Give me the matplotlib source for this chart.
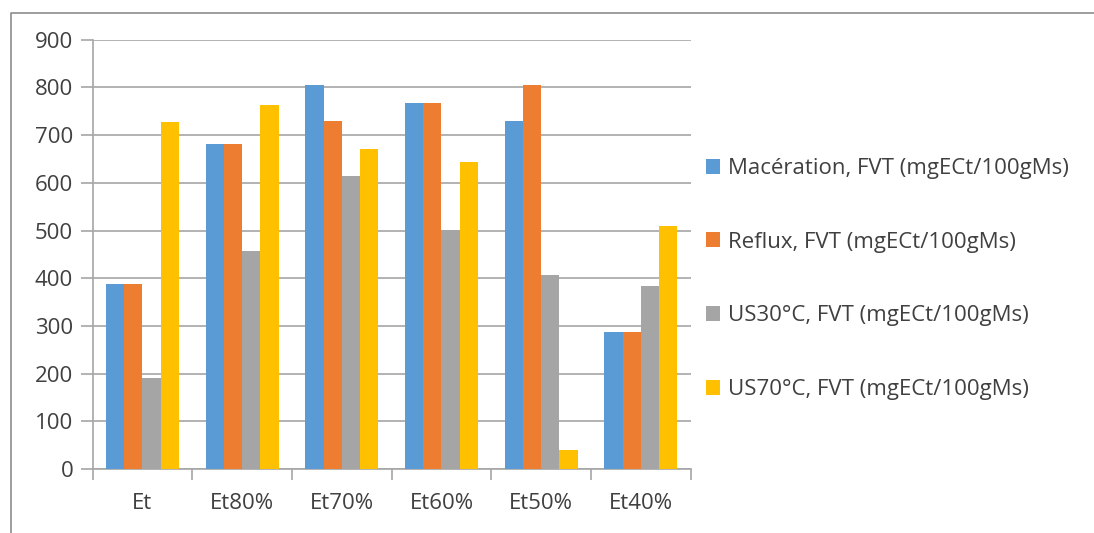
import matplotlib
matplotlib.use('Agg')
import matplotlib.pyplot as plt
import numpy as np
from matplotlib.lines import Line2D

# solvent categories and FVT values (mgECt/100gMs) for each extraction method
categories = ['Et', 'Et80%', 'Et70%', 'Et60%', 'Et50%', 'Et40%']
maceration = [387, 682, 805, 768, 730, 287]
reflux = [387, 682, 730, 768, 805, 287]
us30 = [190, 457, 615, 502, 406, 384]
us70 = [727, 764, 670, 644, 39, 509]

series = [maceration, reflux, us30, us70]
labels = ['Macération, FVT (mgECt/100gMs)', 'Reflux, FVT (mgECt/100gMs)',
          'US30°C, FVT (mgECt/100gMs)', 'US70°C, FVT (mgECt/100gMs)']
colors = ['#5B9BD5', '#ED7D31', '#A5A5A5', '#FFC000']

plt.rcParams['font.family'] = ['Open Sans', 'DejaVu Sans']
text_col = '#404040'
grid_col = '#A6A6A6'

fig = plt.figure(figsize=(10.94, 5.33), dpi=100)
ax = fig.add_axes([0.0847, 0.120, 0.5466, 0.8055])

x = np.arange(len(categories))
w = 0.183
for i, (vals, lab, col) in enumerate(zip(series, labels, colors)):
    ax.bar(x + (i - 1.5) * w, vals, width=w, color=col, label=lab, zorder=3)

ax.set_xlim(-0.5, len(categories) - 0.5)
ax.set_ylim(0, 900)
ax.set_yticks(np.arange(0, 901, 100))
ax.yaxis.grid(True, color=grid_col, linewidth=1.2, zorder=0)
ax.set_xticks(x)
ax.set_xticklabels(categories)
ax.set_xticks(np.arange(-0.5, len(categories)), minor=True)
ax.tick_params(axis='x', which='major', length=0, pad=17, labelsize=16, colors=text_col)
ax.tick_params(axis='x', which='minor', length=8, width=1.2, color=grid_col)
ax.tick_params(axis='y', length=9, width=1.2, color=grid_col, labelsize=16,
               labelcolor=text_col, pad=5)
for s in ['top', 'right']:
    ax.spines[s].set_visible(False)
for s in ['left', 'bottom']:
    ax.spines[s].set_color(grid_col)
    ax.spines[s].set_linewidth(1.2)

leg = fig.legend(loc='upper left', bbox_to_anchor=(0.627, 0.741), frameon=False,
                 fontsize=16, handlelength=0.65, handleheight=0.65, handletextpad=0.35,
                 labelspacing=2.37, labelcolor=text_col)

# outer chart frame
fig.add_artist(Line2D([10.7 / 1094, 10.7 / 1094, 1.0], [0.0, 1 - 13 / 533, 1 - 13 / 533],
                      transform=fig.transFigure, color='#8C8C8C', linewidth=1.2))

fig.savefig('out.png', dpi=100)
